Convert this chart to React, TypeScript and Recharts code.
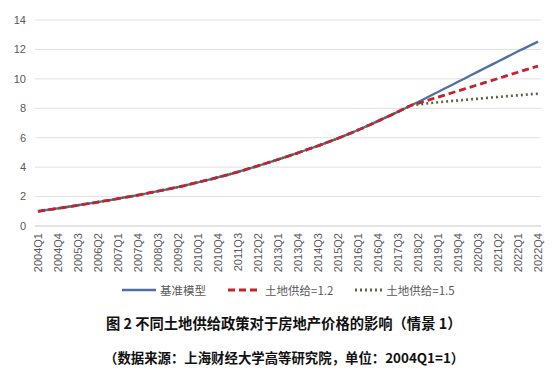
import { LineChart, Line, XAxis, YAxis, CartesianGrid } from 'recharts';

// quarter labels 2004Q1 .. 2022Q4
const quarters: string[] = [];
for (let y = 2004; y <= 2022; y++) {
  for (let q = 1; q <= 4; q++) quarters.push(`${y}Q${q}`);
}

// 基准模型 (index 2004Q1 = 1)
const baseline = [
  1.0, 1.07, 1.13, 1.2, 1.27, 1.34, 1.41, 1.48, 1.55, 1.63,
  1.7, 1.78, 1.86, 1.94, 2.02, 2.1, 2.19, 2.28, 2.37, 2.46,
  2.55, 2.65, 2.75, 2.86, 2.97, 3.08, 3.19, 3.31, 3.43, 3.55,
  3.68, 3.81, 3.95, 4.09, 4.23, 4.37, 4.52, 4.67, 4.82, 4.97,
  5.13, 5.29, 5.45, 5.62, 5.79, 5.96, 6.14, 6.33, 6.52, 6.72,
  6.92, 7.13, 7.34, 7.55, 7.77, 7.99, 8.21, 8.43, 8.65, 8.88,
  9.11, 9.34, 9.57, 9.8, 10.03, 10.26, 10.49, 10.72, 10.95, 11.18,
  11.41, 11.64, 11.87, 12.09, 12.31, 12.53,
];

// scenarios branch off the baseline after 2018Q1 (index 56)
const branchAt = 57;
const supply12Tail = [
  8.34, 8.48, 8.62, 8.76, 8.9, 9.04, 9.18, 9.32, 9.46, 9.6,
  9.74, 9.88, 10.02, 10.17, 10.31, 10.45, 10.59, 10.73, 10.87,
];
const supply15Tail = [
  8.26, 8.31, 8.36, 8.41, 8.45, 8.49, 8.53, 8.57, 8.61, 8.65,
  8.69, 8.73, 8.77, 8.81, 8.85, 8.88, 8.92, 8.96, 8.99,
];

const yTicks = [0, 2, 4, 6, 8, 10, 12, 14];

const data = quarters.map((q, i) => ({
  q,
  base: baseline[i],
  s12: i < branchAt ? baseline[i] : supply12Tail[i - branchAt],
  s15: i < branchAt ? baseline[i] : supply15Tail[i - branchAt],
}));

const BLUE = '#4f70a3';
const RED = '#c3232a';
const GREEN = '#56683f';
const TEXT = '#595959';

function QuarterTick({ x, y, payload }: any) {
  return (
    <text
      x={x}
      y={y}
      transform={`rotate(-90, ${x}, ${y})`}
      textAnchor="end"
      dy="0.35em"
      fontSize={11}
      fontFamily="Liberation Sans, Arial, sans-serif"
      fill={TEXT}
    >
      {payload.value}
    </text>
  );
}

function LegendItem({ color, dash, label, width }: { color: string; dash?: string; label: string; width: number }) {
  return (
    <span style={{ display: 'inline-flex', alignItems: 'center', marginRight: 22 }}>
      <svg width={width} height={8} style={{ marginRight: 4 }}>
        <line x1={0} y1={4} x2={width} y2={4} stroke={color} strokeWidth={dash ? 2.8 : 2.4} strokeDasharray={dash} />
      </svg>
      {label}
    </span>
  );
}

export default function App() {
  return (
    <div style={{ position: 'absolute', left: 0, top: 0, width: 554, height: 377, background: '#fff' }}>
      <LineChart width={554} height={300} data={data} margin={{ top: 20, right: 13, bottom: 0, left: 0 }}>
        <CartesianGrid vertical={false} stroke="#e0e0e0" />
        <XAxis
          dataKey="q"
          interval={2}
          tick={<QuarterTick />}
          tickLine={false}
          axisLine={{ stroke: '#d9d9d9' }}
          tickSize={5}
          tickMargin={2}
          height={74}
          padding={{ left: 3, right: 3 }}
        />
        <YAxis
          domain={[0, 14]}
          ticks={yTicks}
          width={35}
          tickLine={false}
          axisLine={false}
          tickMargin={3}
          tick={{ fontSize: 11, fill: TEXT, fontFamily: 'Liberation Sans, Arial, sans-serif' }}
        />
        <Line dataKey="base" stroke={BLUE} strokeWidth={2.3} dot={false} activeDot={false} isAnimationActive={false} />
        <Line dataKey="s15" stroke={GREEN} strokeWidth={2.6} strokeDasharray="2 3" dot={false} activeDot={false} isAnimationActive={false} />
        <Line dataKey="s12" stroke={RED} strokeWidth={2.8} strokeDasharray="7 4" dot={false} activeDot={false} isAnimationActive={false} />
      </LineChart>
      <div
        style={{
          position: 'absolute',
          top: 282,
          left: 122,
          fontSize: 11.5,
          color: TEXT,
          fontFamily: 'Noto Sans CJK SC, sans-serif',
          display: 'flex',
          lineHeight: '16px',
        }}
      >
        <LegendItem color={BLUE} label="基准模型" width={34} />
        <LegendItem color={RED} dash="7 4" label="土地供给=1.2" width={33} />
        <LegendItem color={GREEN} dash="2 3" label="土地供给=1.5" width={27} />
      </div>
      <div
        style={{
          position: 'absolute',
          top: 312,
          left: 0,
          width: 554,
          paddingLeft: 106,
          boxSizing: 'border-box',
          fontFamily: 'Noto Sans CJK SC, sans-serif',
          color: '#111',
          fontWeight: 700,
        }}
      >
        <div style={{ fontSize: 14.3, lineHeight: '22px' }}>图 2 不同土地供给政策对于房地产价格的影响（情景 1）</div>
        <div style={{ fontSize: 13.4, lineHeight: '22px', marginTop: 12, marginLeft: -2 }}>
          （数据来源：上海财经大学高等研究院，单位：2004Q1=1）
        </div>
      </div>
    </div>
  );
}
